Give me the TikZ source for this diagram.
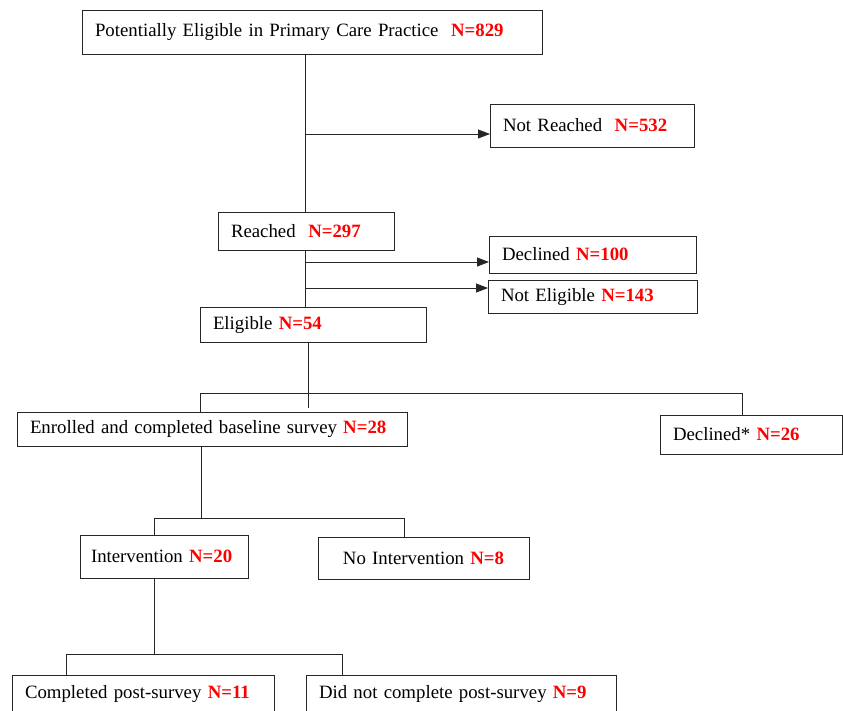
\documentclass[tikz,border=0pt]{standalone}
\usepackage{fontspec}
\setmainfont{Liberation Serif}
\usetikzlibrary{arrows.meta,calc,positioning}
\newcommand{\ncount}[1]{\textbf{\color{red}N=#1}}
\tikzset{
  box/.style={draw=black!85, line width=0.9pt, anchor=north west, outer sep=0pt,
    inner xsep=13pt, inner ysep=0pt, align=left,
    font=\fontsize{18.8}{23}\selectfont},
  link/.style={draw=black!85, line width=0.8pt},
  arrow/.style={link, -{Triangle[length=12pt,width=9pt]}}
}
\begin{document}
\begin{tikzpicture}[x=1pt,y=-1pt]
  \useasboundingbox (0,0) rectangle (843,710);

  % boxes of the first part
  \node[box, text width=434pt, minimum height=44pt] (potential) at (82,10)
    {Potentially Eligible in Primary Care Practice~~\ncount{829}};
  \node[box, text width=178pt, minimum height=43pt] (notreached) at (490,104)
    {Not Reached~~\ncount{532}};
  \node[box, text width=150pt, minimum height=38pt] (reached) at (218,212)
    {Reached~~\ncount{297}};
  \node[box, text width=181pt, minimum height=37pt] (declined) at (489,236)
    {Declined \ncount{100}};
  \node[box, text width=183pt, minimum height=33pt] (noteligible) at (488,280)
    {Not Eligible \ncount{143}};
  \node[box, text width=200pt, minimum height=35pt] (eligible) at (200,307)
    {Eligible \ncount{54}};

  % boxes of the second part
  \node[box, text width=364pt, minimum height=34pt] (enrolled) at (17,412)
    {Enrolled and completed baseline survey \ncount{28}};
  \node[box, text width=156pt, minimum height=39pt] (declinedstar) at (660,415)
    {Declined* \ncount{26}};
  \node[box, inner xsep=11pt, text width=146pt, minimum height=43pt] (intervention) at (80,535)
    {Intervention \ncount{20}};
  \node[box, text width=185pt, minimum height=42pt, align=center] (nointervention) at (318,537)
    {No Intervention \ncount{8}};
  \node[box, text width=236pt, minimum height=38pt] (completed) at (12,675)
    {Completed post-survey \ncount{11}};
  \node[box, text width=284pt, minimum height=38pt] (notcompleted) at (306,675)
    {Did not complete post-survey \ncount{9}};

  % branch points
  \coordinate (a1) at (305,134);
  \coordinate (b1) at (305,262);
  \coordinate (b2) at (305,288);
  \coordinate (c0) at (308,342);
  \coordinate (c1) at (308,408);
  \coordinate (c2) at (200,393);
  \coordinate (c3) at (742,393);
  \coordinate (d0) at (201,518);
  \coordinate (d1) at (154,518);
  \coordinate (d2) at (404,518);
  \coordinate (e0) at (154,654);
  \coordinate (e1) at (66,654);
  \coordinate (e2) at (342,654);

  % connectors
  \draw[link] (a1 |- potential.south) -- (a1 |- reached.north);
  \draw[arrow] (a1) -- (a1 -| notreached.west);
  \draw[link] (b1 |- reached.south) -- (b1 |- eligible.north);
  \draw[arrow] (b1) -- (b1 -| declined.west);
  \draw[arrow] (b2) -- (b2 -| noteligible.west);

  \draw[link] (c0 |- eligible.south) -- (c1);
  \draw[link] (c2 |- enrolled.north) -- (c2) -- (c3) -- (c3 |- declinedstar.north);

  \draw[link] (d0 |- enrolled.south) -- (d0);
  \draw[link] (d1 |- intervention.north) -- (d1) -- (d2) -- (d2 |- nointervention.north);

  \draw[link] (e0 |- intervention.south) -- (e0);
  \draw[link] (e1 |- completed.north) -- (e1) -- (e2) -- (e2 |- notcompleted.north);
\end{tikzpicture}
\end{document}
